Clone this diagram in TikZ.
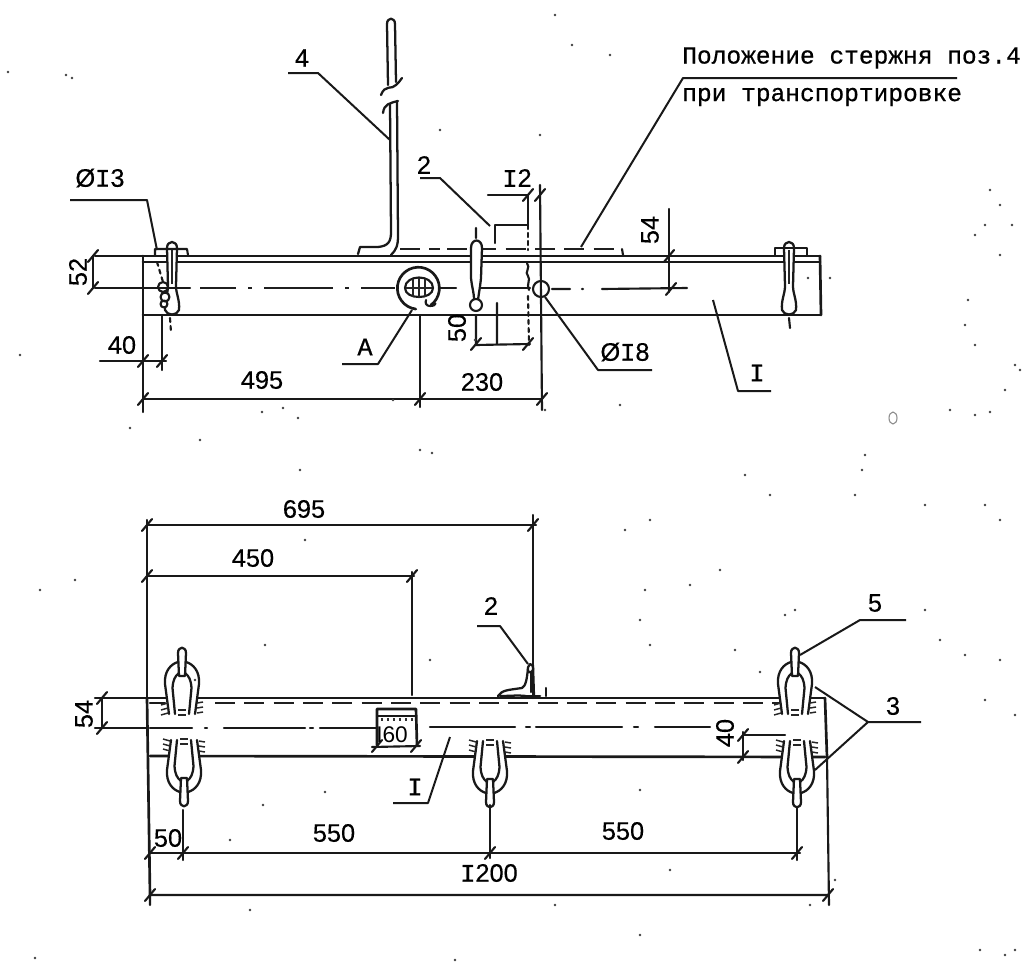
\documentclass[tikz,border=0pt]{standalone}
\usepackage{fontspec}
\setmainfont[BoldFont={Liberation Sans},BoldFeatures={FakeBold=0.35}]{Liberation Sans}
\newfontfamily\monof[BoldFont={Liberation Mono},BoldFeatures={FakeBold=0.7}]{Liberation Mono}
\usetikzlibrary{calc}
\newcommand{\ttI}{{\monof I}}
\newcommand{\tk}[1]{\draw[thinl] #1 ++(-5,6) -- ++(10,-12);}
\tikzset{
  x=0.75pt,y=-0.75pt,
  heavy/.style={line width=2pt,black!90,line cap=round,line join=round},
  thinl/.style={line width=1.6pt,black!90,line cap=round,line join=round},
  lead/.style={line width=1.5pt,black!90,line join=round},
  dashl/.style={line width=1.7pt,black!88,dash pattern=on 15pt off 7pt},
  centrel/.style={line width=1.6pt,black!88,dash pattern=on 52pt off 9pt on 3pt off 9pt},
  lab/.style={font=\bfseries\fontsize{19}{20}\selectfont,inner sep=0pt,text=black},
  note/.style={font=\monof\bfseries\fontsize{18.4}{20}\selectfont,inner sep=0pt,anchor=west,text=black},
  rodl/.style={line width=1.7pt,black!90,line cap=round,line join=round},
  uplink/.pic={
    \draw[rodl,fill=white] (-13,16) -- (-17,-14) .. controls (-18,-27) and (-11,-34) .. (-4,-36)
       -- (4,-36) .. controls (11,-34) and (18,-27) .. (17,-14) -- (13,16);
    \draw[rodl,fill=white] (-7,16) -- (-9.5,-10) .. controls (-9,-18) and (-7,-22) .. (-3,-25)
       -- (3,-25) .. controls (7,-22) and (9,-18) .. (9.5,-10) -- (7,16);
    \draw[rodl,fill=white] (-3,-22) -- (-4,-45) .. controls (-4,-52) and (4,-52) .. (4,-45) -- (3,-22) -- cycle;
    \foreach \yy in {5,10,15}{\draw[line width=1.1pt,black!85] (-21,\yy+2) -- (-14,\yy);
      \draw[line width=1.1pt,black!85] (15,\yy) -- (21,\yy-1);}
    \draw[line width=1.1pt,black!85] (-4,12) -- (4,12) (-4,17) -- (4,17);
  },
  toplug/.pic={
    \draw[rodl,fill=white] (-5,-8) .. controls (-5,-16) and (5,-16) .. (5,-8) -- (4,30) .. controls (4,38) and (8,44) .. (7,54) .. controls (5,60) and (-5,60) .. (-7,54) .. controls (-8,44) and (-4,38) .. (-4,30) -- cycle;
    \draw[line width=1.1pt,black!85] (0,-6) -- (0,28);
  }
}
\begin{document}
\begin{tikzpicture}
\useasboundingbox (0,0) rectangle (1024,964);
\fill[white] (0,0) rectangle (1024,964);

%% ---------- TOP VIEW ----------
% rod 4
\draw[rodl] (388,85) -- (387,24) .. controls (387,17) and (395,17) .. (395,24) -- (396,82);
\draw[rodl] (381,95) .. controls (385,84) and (392,90) .. (396,85) .. controls (399,82) and (400,81) .. (402,78);
\draw[rodl] (383,113) .. controls (384,104) and (390,103) .. (398,101);
\draw[rodl] (390,104) -- (391,232) .. controls (391,242) and (388,246) .. (378,247) -- (360,247) -- (358,254);
\draw[rodl] (397,101) -- (398,236) .. controls (398,246) and (396,250) .. (391,255);
% beam
\draw[heavy] (143,256) -- (820,256) (143,262) -- (820,262);
\draw[heavy] (143,315) -- (820,315);
\draw[heavy] (143,256) -- (143,315);
\draw[heavy] (820,256) -- (821,315);
% dashed position of the rod + bracket 2
\draw[dashl] (447,249) -- (622,249);
\draw[thinl] (622,249) -- (623,255);
\draw[thinl] (495,243) -- (495,225) -- (527,225);
\draw[thinl,dashed] (528,225) -- (528,250);
\draw[dashl] (400,249) -- (440,249);
% centre line
\draw[centrel] (166,288) -- (190,288);
\draw[centrel,dash phase=25pt] (200,288) -- (395,288);
\draw[thinl] (440,288) -- (456,288);
\draw[thinl] (476,288) -- (530,288);
\draw[thinl] (552,289) -- (570,289) (582,289) -- (583,289) (602,289) -- (687,288);
% hole A
\draw[heavy,fill=white] (431,305) arc[start angle=53,end angle=-263,x radius=21,y radius=21];
\draw[thinl] (431,305) .. controls (436,300) and (438,306) .. (430,306) .. controls (426,306) and (425,303) .. (426,300);
\draw[thinl] (405,288) .. controls (405,274) and (433,274) .. (433,288) .. controls (433,300) and (405,300) .. (405,288);
\draw[line width=1.2pt,black!85] (413,279) -- (413,297) (419,278) -- (419,298) (425,279) -- (425,297) (406,288) -- (432,288);
% hole dia 18
\draw[thinl,fill=white] (541,289) circle[radius=8];
% lugs
\pic at (172,256) {toplug};
\pic at (789,256) {toplug};
\draw[thinl] (155,255) -- (155,249) -- (187,249) -- (188,255);
\draw[thinl] (775,255) -- (775,248) -- (807,248) -- (807,255);
\draw[thinl,dashed] (170,318) -- (171,332);
\draw[thinl] (789,318) -- (790,328) (476,228) -- (476,238);
\draw[thinl,fill=white] (163,287) circle[radius=5] (165,297) circle[radius=4.5] (164,304) circle[radius=3.5];
\draw[thinl,dashed] (157,262) -- (163,282);
\draw[rodl,fill=white] (471,248) .. controls (471,238) and (482,238) .. (482,248) -- (481,278) .. controls (480,288) and (479,292) .. (478,300) -- (474,300) .. controls (474,292) and (472,288) .. (471,278) -- cycle;
\draw[thinl,fill=white] (476,305) circle[radius=6];
% bracket right wavy edge in the beam
\draw[thinl] (527,263) .. controls (531,268) and (524,272) .. (528,276) .. controls (531,280) and (526,284) .. (529,290);
\draw[thinl,dashed] (528,296) -- (529,345);
% dimensions, top view
\draw[thinl] (95,256) -- (143,256) (95,288) -- (190,288) (93,256) -- (93,288);
\tk{(93,256)} \tk{(93,288)}
\node[lab,rotate=90] (d52) at (78,272) {52};
\draw[thinl] (143,315) -- (143,412) (162,315) -- (162,370) (100,361) -- (166,361);
\tk{(143,361)} \tk{(162,361)}
\node[lab] (d40a) at (122,345) {40};
\draw[thinl] (143,399) -- (542,399) (420,316) -- (420,407);
\draw[thinl] (540,185) -- (542,410);
\tk{(143,399)} \tk{(420,399)} \tk{(542,399)}
\node[lab] (d495) at (262,380) {495};
\node[lab] (d230) at (482,382) {230};
\draw[thinl] (488,195) -- (528,195) (528,195) -- (528,225);
\tk{(528,195)} \tk{(540,195)}
\node[lab] (d12) at (517,178) {\ttI2};
\draw[thinl] (476,315) -- (476,345) -- (530,344) (497,303) -- (497,344);
\tk{(476,344)} \tk{(528,344)}
\node[lab,rotate=90] (d50) at (457,328) {50};
\draw[thinl] (669,209) -- (669,292);
\tk{(669,256)} \tk{(671,289)}
\node[lab,rotate=90] (d54a) at (650,230) {54};
% leaders, top view
\node[lab] (l13) at (100,178) {Ø\ttI3};
\coordinate (l13a) at (70,200); \coordinate (l13b) at (147,200); \coordinate (l13c) at (157,250);
\draw[lead] (l13a) -- (l13b) -- (l13c);
\node[lab] (lA) at (365,347) {\monof A};
\coordinate (lAa) at (342,364); \coordinate (lAb) at (378,364); \coordinate (lAc) at (412,310);
\draw[lead] (lAa) -- (lAb) -- (lAc);
\node[lab] (l4) at (302,58) {4};
\coordinate (l4a) at (288,73); \coordinate (l4b) at (318,73); \coordinate (l4c) at (390,140);
\draw[lead] (l4a) -- (l4b) -- (l4c);
\node[lab] (l2a) at (424,165) {2};
\coordinate (l2aa) at (420,178); \coordinate (l2ab) at (440,178); \coordinate (l2ac) at (490,226);
\draw[lead] (l2aa) -- (l2ab) -- (l2ac);
\node[lab] (l18) at (625,352) {Ø\ttI8};
\coordinate (l18a) at (652,370); \coordinate (l18b) at (598,370); \coordinate (l18c) at (545,297);
\draw[lead] (l18a) -- (l18b) -- (l18c);
\node[lab] (lI) at (757,373) {\ttI};
\coordinate (lIa) at (771,391); \coordinate (lIb) at (738,391); \coordinate (lIc) at (713,300);
\draw[lead] (lIa) -- (lIb) -- (lIc);
\node[note] (t1) at (682,58) {Положение стержня поз.4};
\node[note] (t2) at (682,97) {при транспортировке};
\coordinate (tla) at (957,78); \coordinate (tlb) at (683,78); \coordinate (tlc) at (581,247);
\draw[lead] (tla) -- (tlb) -- (tlc);

%% ---------- BOTTOM VIEW ----------
\draw[heavy] (148,698) -- (824,698);
\draw[heavy] (150,756) -- (825,757);
\draw[heavy] (147,698) -- (150,895);
\draw[heavy] (825,698) -- (827,757);
\draw[thinl] (147,520) -- (147,698);
\draw[dashl] (215,703) -- (780,703);
\draw[thinl] (150,703) -- (165,703);
\draw[thinl] (150,728) -- (192,728);
\draw[thinl] (205,728) -- (207,728) (224,728) -- (305,728) (310,728) -- (313,728) (320,728) -- (378,728);
\draw[thinl] (430,727) -- (515,727) (526,727) -- (530,727) (536,727) -- (622,727) (634,727) -- (638,727) (655,727) -- (710,727);
% box 160
\draw[heavy,fill=white] (377,745) -- (377,709) -- (416,709) -- (417,745);
\draw[thinl] (377,716) -- (416,716);
\foreach \xx in {382,388,394,400,406,412} {\draw[line width=1.1pt,black!80] (\xx,718) -- (\xx,721);}
\draw[thinl] (372,747) -- (420,746);
\tk{(377,746)} \tk{(416,746)}
\node[lab,font=\fontsize{17}{20}\selectfont] (d160) at (392,735) {I60};
% bracket 2 (section)
\draw[rodl] (534,696) -- (533,665);
\draw[rodl] (498,696) .. controls (502,690) and (508,690) .. (522,688) .. controls (526,686) and (527,678) .. (528,668);
\draw[rodl] (526,696) .. controls (518,695) and (510,696) .. (500,696);
\draw[rodl] (531,672) -- (531,692);
\draw[rodl,fill=white] (530,664) .. controls (526,668) and (528,674) .. (531,672) .. controls (534,672) and (534,664) .. (530,664);
\draw[heavy] (526,696) -- (540,696);
\draw[thinl] (546,688) -- (546,696);
% links
\pic at (182,698) {uplink};
\pic at (795,698) {uplink};
\pic[yscale=-1] at (184,756) {uplink};
\pic[yscale=-1] at (490,757) {uplink};
\pic[yscale=-1] at (797,757) {uplink};
% dimensions bottom view
\draw[thinl] (147,525) -- (536,525) (147,576) -- (414,576) (533,515) -- (533,698) (412,572) -- (412,695);
\tk{(147,525)} \tk{(533,525)} \tk{(147,576)} \tk{(412,576)}
\node[lab] (d695) at (304,509) {695};
\node[lab] (d450) at (253,558) {450};
\draw[thinl] (95,698) -- (148,698) (95,728) -- (148,728) (102,698) -- (102,728);
\tk{(102,698)} \tk{(102,728)}
\node[lab,rotate=90] (d54b) at (84,714) {54};
\draw[thinl] (743,735) -- (785,735) (743,732) -- (743,760);
\tk{(743,735)} \tk{(743,757)}
\node[lab,rotate=90] (d40b) at (725,733) {40};
\draw[thinl] (150,853) -- (800,853) (183,810) -- (183,860) (490,805) -- (490,858) (797,808) -- (797,860);
\tk{(150,853)} \tk{(183,853)} \tk{(490,853)} \tk{(797,853)}
\node[lab] (d50b) at (168,838) {50};
\node[lab] (d550a) at (334,833) {550};
\node[lab] (d550b) at (623,831) {550};
\draw[thinl] (150,895) -- (829,895) (827,757) -- (829,905) (150,895) -- (150,905);
\tk{(150,895)} \tk{(828,895)}
\node[lab] (d1200) at (489,873) {\ttI200};
% leaders bottom view
\node[lab] (l2b) at (491,606) {2};
\coordinate (l2ba) at (477,626); \coordinate (l2bb) at (500,626); \coordinate (l2bc) at (528,664);
\draw[lead] (l2ba) -- (l2bb) -- (l2bc);
\node[lab] (l5) at (875,603) {5};
\coordinate (l5a) at (906,620); \coordinate (l5b) at (860,620); \coordinate (l5c) at (800,655);
\draw[lead] (l5a) -- (l5b) -- (l5c);
\node[lab] (l3) at (893,706) {3};
\coordinate (l3a) at (921,722); \coordinate (l3b) at (868,722); \coordinate (l3c) at (815,687); \coordinate (l3d) at (815,770);
\draw[lead] (l3a) -- (l3b) -- (l3c) (l3b) -- (l3d);
\node[lab] (lIb2) at (415,787) {\ttI};
\coordinate (lI2a) at (393,803); \coordinate (lI2b) at (428,803); \coordinate (lI2c) at (450,737);
\draw[lead] (lI2a) -- (lI2b) -- (lI2c);

%% ---------- scan specks ----------
\foreach \p in {(8,72),(66,75),(72,78),(20,355),(130,428),(262,412),(283,408),(298,418),(432,453),(540,135),(572,45),(545,410),(555,15),(610,55),(475,340),(393,400),(830,278),(808,278),(1005,390),(968,300),(965,325),(975,345),(1015,365),(1020,370),(1000,205),(990,190),(985,225),(1012,225),(975,235),(1000,255),(950,410),(975,415),(990,412),(865,455),(862,470),(855,495),(925,505),(985,505),(1000,520),(650,520),(745,475),(770,495),(785,615),(795,610),(650,645),(640,620),(645,590),(690,585),(720,570),(625,530),(735,650),(760,672),(985,700),(1000,660),(940,640),(965,655),(925,610),(1015,715),(40,590),(75,580),(265,645),(305,540),(300,470),(420,450),(835,880),(810,905),(640,935),(455,960),(35,958),(1005,955),(1015,950),(980,950),(325,792),(263,805),(195,680),(670,870),(430,660),(200,440),(620,405),(440,130),(230,840),(250,910),(555,905),(640,790)}
  {\fill[black!75] \p circle[radius=1.3];}
\draw[black!45,line width=0.8pt] (893,418) ellipse[x radius=4,y radius=6];
\end{tikzpicture}
\end{document}
